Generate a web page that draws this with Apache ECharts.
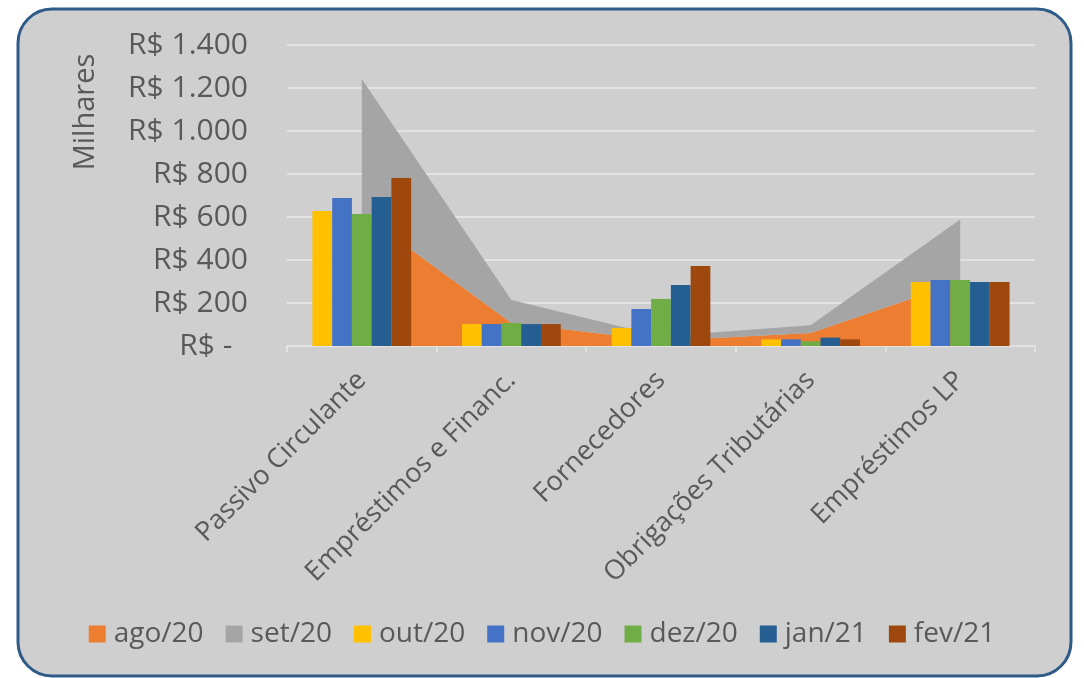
<!DOCTYPE html>
<html>
<head>
<meta charset="utf-8">
<script src="https://cdn.jsdelivr.net/npm/echarts@6/dist/echarts.min.js"></script>
<style>
  html, body { margin: 0; padding: 0; background: #fff; }
  #chart { width: 1084px; height: 678px; }
</style>
</head>
<body>
<div id="chart"></div>
<script>
// categorias e valores (R$ milhares)
const categories = ['Passivo Circulante', 'Empréstimos e Financ.', 'Fornecedores', 'Obrigações Tributárias', 'Empréstimos LP']
const ago20 = [616, 107, 25, 61, 298]
const set20 = [626, 107, 20, 36, 290] // empilhado sobre ago/20
const out20 = [628, 102, 84, 31, 298]
const nov20 = [688, 102, 172, 31, 307]
const dez20 = [614, 107, 219, 22, 307]
const jan21 = [693, 102, 284, 39, 298]
const fev21 = [781, 102, 372, 31, 298]

const font = '"Open Sans", "Noto Sans", sans-serif'
const textColor = '#595959'
const gridColor = '#e3e3e3'

function fmt (v) {
  if (v === 0) return 'R$ -\u00a0\u00a0'
  return 'R$ ' + String(v).replace(/\B(?=(\d{3})+(?!\d))/g, '.')
}

function areaSeries (name, data, color) {
  return {
    name: name,
    type: 'line',
    stack: 'area',
    data: data,
    symbol: 'none',
    z: 1,
    lineStyle: { width: 0 },
    itemStyle: { color: color },
    areaStyle: { color: color, opacity: 1 }
  }
}

function barSeries (name, data, color) {
  return {
    name: name,
    type: 'bar',
    data: data,
    z: 3,
    barGap: '0%',
    barCategoryGap: '34%',
    itemStyle: { color: color }
  }
}

const myChart = echarts.init(document.getElementById('chart'))
const options = {
  backgroundColor: '#fff',
  animation: false,
  textStyle: { fontFamily: font },
  graphic: [
    {
      type: 'rect',
      z: -10,
      shape: { x: 18, y: 9, width: 1053, height: 667, r: 34 },
      style: { fill: '#d0cfd0', stroke: '#2e5b88', lineWidth: 3 }
    },
    {
      type: 'text',
      x: 86,
      y: 112,
      rotation: Math.PI / 2,
      style: {
        text: 'Milhares',
        fill: textColor,
        font: '29px ' + font,
        align: 'center',
        verticalAlign: 'middle'
      }
    }
  ],
  grid: {
    left: 287,
    right: 49,
    top: 45,
    bottom: 332
  },
  legend: {
    left: 'center',
    top: 615,
    icon: 'rect',
    itemWidth: 17,
    itemHeight: 17,
    itemGap: 22,
    textStyle: { color: textColor, fontSize: 28, fontFamily: font, padding: [0, 0, 0, 3] },
    data: ['ago/20', 'set/20', 'out/20', 'nov/20', 'dez/20', 'jan/21', 'fev/21']
  },
  xAxis: {
    type: 'category',
    data: categories,
    boundaryGap: true,
    axisLine: { show: true, lineStyle: { color: gridColor, width: 2 } },
    axisTick: { show: true, length: 6, lineStyle: { color: gridColor, width: 2 } },
    axisLabel: {
      interval: 0,
      rotate: 45,
      margin: 30,
      color: textColor,
      fontSize: 27,
      fontFamily: font
    }
  },
  yAxis: {
    type: 'value',
    min: 0,
    max: 1400,
    interval: 200,
    axisLine: { show: false },
    axisTick: { show: false },
    splitLine: { show: true, lineStyle: { color: gridColor, width: 2 } },
    axisLabel: {
      margin: 39,
      color: textColor,
      fontSize: 30,
      fontFamily: font,
      formatter: fmt
    }
  },
  series: [
    areaSeries('ago/20', ago20, '#ED7D31'),
    areaSeries('set/20', set20, '#A5A5A5'),
    barSeries('out/20', out20, '#FFC000'),
    barSeries('nov/20', nov20, '#4472C4'),
    barSeries('dez/20', dez20, '#70AD47'),
    barSeries('jan/21', jan21, '#255E91'),
    barSeries('fev/21', fev21, '#9E480E')
  ]
}
myChart.setOption(options)
</script>
</body>
</html>
